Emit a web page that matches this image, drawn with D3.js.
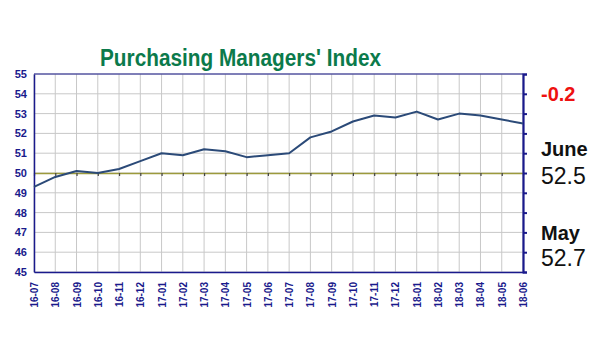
<!DOCTYPE html>
<html><head><meta charset="utf-8">
<script src="https://cdn.jsdelivr.net/npm/d3@7"></script>
<style>body{margin:0;background:#fff;}svg{display:block;font-family:Arial,"Liberation Sans",sans-serif;}</style>
</head><body>
<svg id="c" width="600" height="360"></svg>
<script>
const months = ["16-07","16-08","16-09","16-10","16-11","16-12","17-01","17-02","17-03","17-04","17-05","17-06","17-07","17-08","17-09","17-10","17-11","17-12","18-01","18-02","18-03","18-04","18-05","18-06"];
const pmi = [49.3,49.8,50.1,50.0,50.2,50.6,51.0,50.9,51.2,51.1,50.8,50.9,51.0,51.8,52.1,52.6,52.9,52.8,53.1,52.7,53.0,52.9,52.7,52.5];
const yTicks = [45,46,47,48,49,50,51,52,53,54,55];
const title = "Purchasing Managers' Index";
const change = "-0.2";
const cur = {label:"June", value:"52.5"};
const prev = {label:"May", value:"52.7"};

const svg = d3.select("#c");
const L=34, R=523, T=74, B=272;
const navy="#1a1a8c";
const x = d3.scalePoint().domain(months).range([L,R]);
const y = d3.scaleLinear().domain([45,55]).range([B,T]);

// grid
svg.append("g").selectAll("line.v").data(months).join("line")
  .attr("x1",d=>x(d)).attr("x2",d=>x(d)).attr("y1",T).attr("y2",B)
  .attr("stroke","#c8c8c8").attr("stroke-width",1);
svg.append("g").selectAll("line.h").data(yTicks).join("line")
  .attr("x1",L).attr("x2",R).attr("y1",d=>y(d)).attr("y2",d=>y(d))
  .attr("stroke","#c8c8c8").attr("stroke-width",1);

// 50 axis with ticks
const ax50 = svg.append("g").attr("transform",`translate(0,${y(50)})`)
  .call(d3.axisBottom(x).tickSize(3).tickSizeOuter(0).tickFormat(""));
ax50.select(".domain").attr("stroke","#9c9a3c").attr("stroke-width",1.3);
ax50.selectAll(".tick line").attr("stroke","#444").attr("stroke-width",1.2);

// frame
svg.append("line").attr("x1",L).attr("x2",R).attr("y1",T).attr("y2",T).attr("stroke",navy).attr("stroke-width",1);

// left axis
const ya = svg.append("g").attr("transform",`translate(${L},0)`)
  .call(d3.axisLeft(y).tickValues(yTicks).tickSize(0).tickPadding(7).tickFormat(d3.format("d")));
ya.select(".domain").attr("stroke",navy).attr("stroke-width",1.5);
ya.selectAll("text").attr("fill",navy).attr("font-weight","bold").attr("font-size",11);

// right axis
const yr = svg.append("g").attr("transform",`translate(${R},0)`)
  .call(d3.axisRight(y).tickValues(yTicks).tickSize(4).tickFormat(""));
yr.select(".domain").attr("stroke",navy).attr("stroke-width",2.2);
yr.selectAll(".tick line").attr("stroke",navy).attr("stroke-width",2);

// bottom axis
const xa = svg.append("g").attr("transform",`translate(0,${B})`)
  .call(d3.axisBottom(x).tickSize(0).tickPadding(0));
xa.select(".domain").attr("stroke",navy).attr("stroke-width",1.5);
xa.selectAll("text").attr("fill",navy).attr("font-weight","bold").attr("font-size",10)
  .attr("transform","rotate(-90)").attr("text-anchor","end").attr("x",-10).attr("y",0).attr("dy","0.35em");

// line
svg.append("path").datum(pmi.map((v,i)=>[months[i],v]))
  .attr("fill","none").attr("stroke","#2b4a78").attr("stroke-width",2)
  .attr("stroke-linejoin","round")
  .attr("d",d3.line().x(d=>x(d[0])).y(d=>y(d[1])));

// title
svg.append("text").attr("x",240.5).attr("y",66).attr("text-anchor","middle")
  .attr("fill","#0b7a4b").attr("font-weight","bold").attr("font-size",23)
  .attr("textLength",281).attr("lengthAdjust","spacingAndGlyphs").text(title);

// right texts
const tx = 541;
svg.append("text").attr("x",tx).attr("y",101).attr("fill","#ee1111").attr("font-weight","bold").attr("font-size",20).text(change);
svg.append("text").attr("x",tx).attr("y",156).attr("fill","#111").attr("font-weight","bold").attr("font-size",20).text(cur.label);
svg.append("text").attr("x",tx).attr("y",184).attr("fill","#111").attr("font-size",23).text(cur.value);
svg.append("text").attr("x",tx).attr("y",240).attr("fill","#111").attr("font-weight","bold").attr("font-size",20).text(prev.label);
svg.append("text").attr("x",tx).attr("y",266).attr("fill","#111").attr("font-size",23).text(prev.value);
</script>
</body></html>
